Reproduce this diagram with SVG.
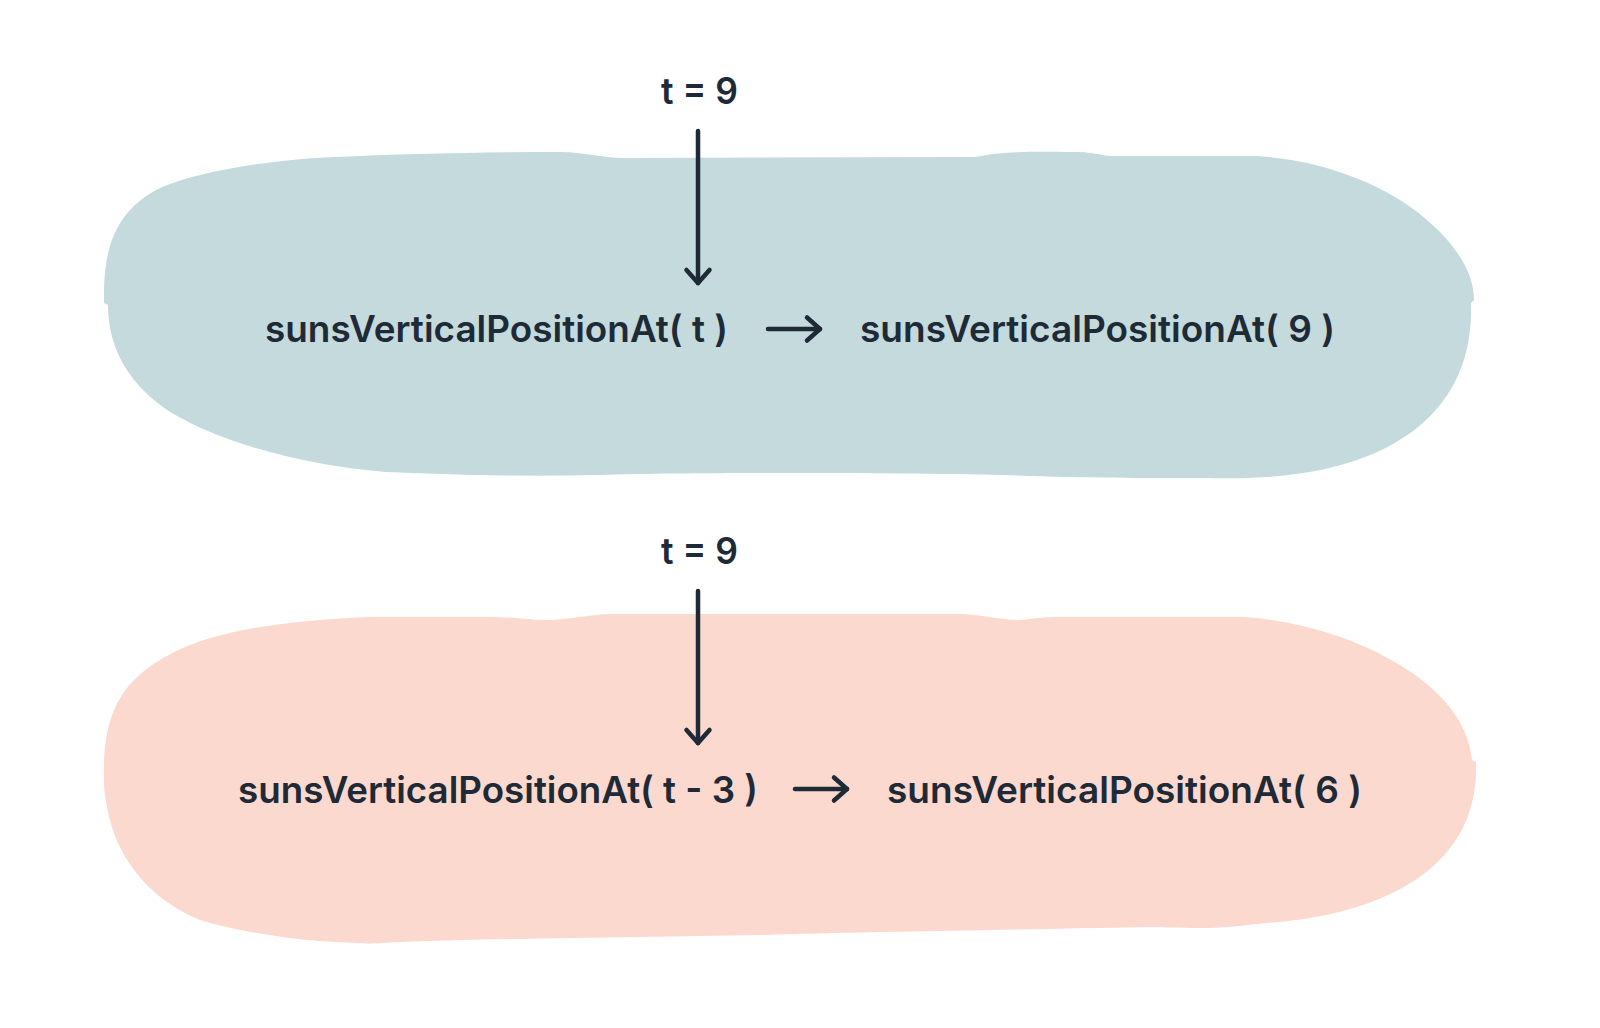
<svg xmlns="http://www.w3.org/2000/svg" width="1600" height="1028" viewBox="0 0 1600 1028">
  <style>
    .lbl { font-family: Inter, "Open Sans", "Liberation Sans", sans-serif; font-size: 37px; font-weight: 600; fill: #1f2a37; }
    .conn { fill: none; stroke: #1f2a37; stroke-width: 4.5; stroke-linecap: round; marker-end: url(#ah); }
  </style>
  <defs>
    <marker id="ah" markerUnits="userSpaceOnUse" viewBox="-18 -15 22 30" refX="0" refY="0" markerWidth="22" markerHeight="30" orient="auto" overflow="visible">
      <path d="M-13,-11.5 L0,0 L-13,11.5" fill="none" stroke="#1f2a37" stroke-width="4.5" stroke-linecap="round" stroke-linejoin="round"/>
    </marker>
  </defs>
  <rect x="0" y="0" width="1600" height="1028" fill="#ffffff"/>

  <g id="blob-top">
    <path fill="#c4dadd" d="M 104,300 C 103,250 115,215 151,193 C 180,175 260,160 335,157 C 400,154 480,152 560,152 C 585,152 600,158 625,158 L 975,157 C 995,153 1010,151 1075,152 C 1095,152 1100,156 1115,156 L 1255,156 C 1330,160 1400,190 1440,232 C 1465,258 1474,280 1474,300 L 1471,303 C 1475,420 1380,470 1267,477 C 1240,479 1220,478 1200,478 C 1140,478 1080,478 1004,475 C 900,473 700,472 600,475 C 500,477 440,474 386,472 C 300,465 220,442 170,412 C 130,385 108,350 108,305 L 104,303 Z"/>
  </g>
  <g id="blob-bottom">
    <path fill="#fcd9ce" d="M 104,780 C 102,720 118,685 160,660 C 195,638 250,622 371,617 L 487,617 C 515,617 530,620 545,620 C 570,620 590,614 613,614 L 960,614 C 985,615 1000,620 1020,620 C 1035,619 1040,617 1060,617 L 1243,617 C 1300,620 1360,640 1400,665 C 1440,690 1468,720 1472,760 L 1476,762 C 1480,870 1380,915 1267,923 C 1240,926 1220,928 1200,928 C 1180,928 1160,927 1146,927 C 1000,930 860,932 758,935 C 650,937 520,938 400,942 C 380,943 370,944 360,943 C 300,942 240,932 200,920 C 150,900 120,860 110,820 C 105,800 104,790 104,780 Z"/>
  </g>

  <g id="input-top">
    <text class="lbl" x="661" y="104" textLength="77" lengthAdjust="spacingAndGlyphs">t = 9</text>
  </g>
  <g id="expr-top">
    <text class="lbl" x="265" y="342" textLength="463" lengthAdjust="spacingAndGlyphs">sunsVerticalPositionAt( t )</text>
  </g>
  <g id="result-top">
    <text class="lbl" x="860" y="342" textLength="475" lengthAdjust="spacingAndGlyphs">sunsVerticalPositionAt( 9 )</text>
  </g>

  <g id="input-bottom">
    <text class="lbl" x="661" y="564" textLength="77" lengthAdjust="spacingAndGlyphs">t = 9</text>
  </g>
  <g id="expr-bottom">
    <text class="lbl" x="238" y="803" textLength="520" lengthAdjust="spacingAndGlyphs">sunsVerticalPositionAt( t - 3 )</text>
  </g>
  <g id="result-bottom">
    <text class="lbl" x="887" y="803" textLength="475" lengthAdjust="spacingAndGlyphs">sunsVerticalPositionAt( 6 )</text>
  </g>

  <g id="connectors">
    <line class="conn" x1="698" y1="131" x2="698" y2="283"/>
    <line class="conn" x1="768" y1="329" x2="820" y2="329"/>
    <line class="conn" x1="698" y1="591" x2="698" y2="743"/>
    <line class="conn" x1="795" y1="789" x2="847" y2="789"/>
  </g>
</svg>
